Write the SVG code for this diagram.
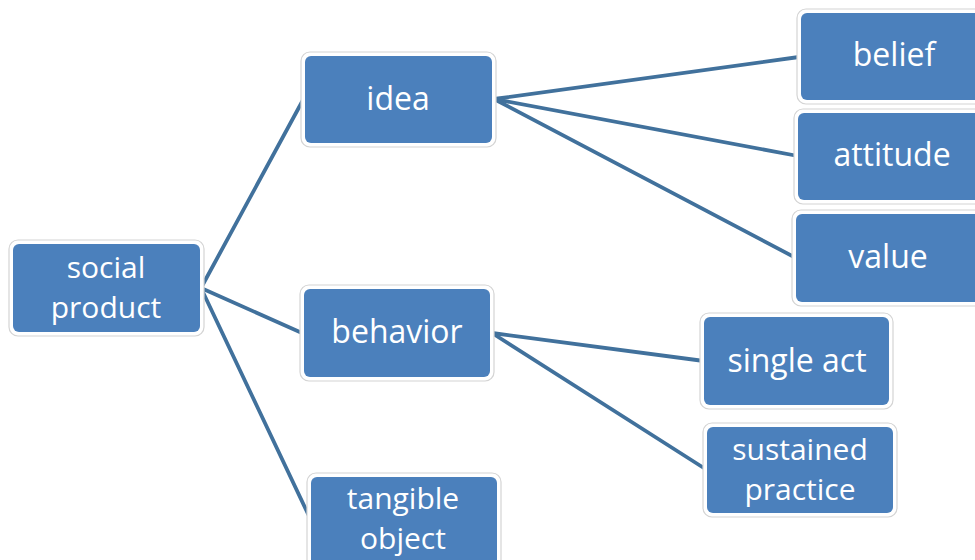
<svg xmlns="http://www.w3.org/2000/svg" width="975" height="560" viewBox="0 0 975 560">
<style>
.frame{fill:#ffffff;stroke:#d4d4d4;stroke-width:1.2}
.box{fill:#4b80bc}
.lbl{fill:#ffffff;font-family:"Open Sans","DejaVu Sans",sans-serif;font-size:32px;text-anchor:middle}
.two{font-size:30px}
.con{stroke:#41719c;stroke-width:3.8;fill:none;stroke-linecap:round}
</style>
<rect width="975" height="560" fill="#ffffff"/>
<g id="connectors">
<line class="con" x1="201" y1="288" x2="303" y2="100"/>
<line class="con" x1="201" y1="288" x2="302" y2="333"/>
<line class="con" x1="201" y1="288" x2="309" y2="516"/>
<line class="con" x1="494" y1="99" x2="799" y2="57"/>
<line class="con" x1="494" y1="99" x2="798" y2="156"/>
<line class="con" x1="494" y1="99" x2="796" y2="258"/>
<line class="con" x1="492" y1="333" x2="704" y2="361"/>
<line class="con" x1="492" y1="333" x2="707" y2="470"/>
</g>
<g id="social-product">
<rect class="frame" x="9" y="240" width="195" height="96" rx="9"/>
<rect class="box" x="13" y="244" width="187" height="88" rx="6"/>
<text class="lbl two" x="106" y="278">social</text>
<text class="lbl two" x="106" y="318">product</text>
</g>
<g id="idea">
<rect class="frame" x="301" y="52" width="195" height="95" rx="9"/>
<rect class="box" x="305" y="56" width="187" height="87" rx="6"/>
<text class="lbl" x="398" y="110">idea</text>
</g>
<g id="behavior">
<rect class="frame" x="300" y="285" width="194" height="96" rx="9"/>
<rect class="box" x="304" y="289" width="186" height="88" rx="6"/>
<text class="lbl" x="397" y="343">behavior</text>
</g>
<g id="tangible-object">
<rect class="frame" x="307" y="473" width="194" height="100" rx="9"/>
<rect class="box" x="311" y="477" width="186" height="92" rx="6"/>
<text class="lbl two" x="403" y="509">tangible</text>
<text class="lbl two" x="403" y="549">object</text>
</g>
<g id="belief">
<rect class="frame" x="797" y="9" width="195" height="95" rx="9"/>
<rect class="box" x="801" y="13" width="187" height="87" rx="6"/>
<text class="lbl" x="894" y="66">belief</text>
</g>
<g id="attitude">
<rect class="frame" x="794" y="109" width="195" height="95" rx="9"/>
<rect class="box" x="798" y="113" width="187" height="87" rx="6"/>
<text class="lbl" x="892" y="166">attitude</text>
</g>
<g id="value">
<rect class="frame" x="792" y="210" width="195" height="96" rx="9"/>
<rect class="box" x="796" y="214" width="187" height="88" rx="6"/>
<text class="lbl" x="888" y="268">value</text>
</g>
<g id="single-act">
<rect class="frame" x="700" y="313" width="193" height="96" rx="9"/>
<rect class="box" x="704" y="317" width="185" height="88" rx="6"/>
<text class="lbl" x="797" y="372">single act</text>
</g>
<g id="sustained-practice">
<rect class="frame" x="703" y="423" width="194" height="94" rx="9"/>
<rect class="box" x="707" y="427" width="186" height="86" rx="6"/>
<text class="lbl two" x="800" y="460">sustained</text>
<text class="lbl two" x="800" y="500">practice</text>
</g>
</svg>
